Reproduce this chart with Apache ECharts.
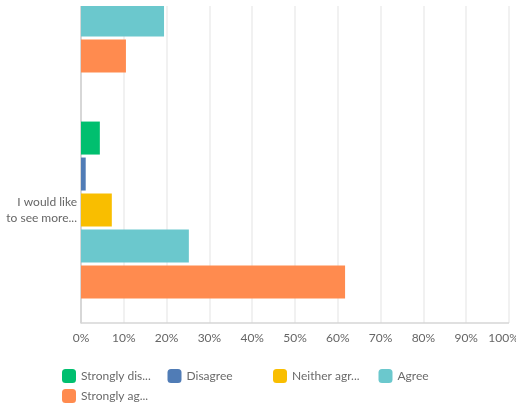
<!DOCTYPE html>
<html>
<head>
<meta charset="utf-8">
<script src="https://cdn.jsdelivr.net/npm/echarts@6/dist/echarts.min.js"></script>
<style>
  html, body { margin: 0; padding: 0; background: #fff; }
  #wrap { position: absolute; left: 0; top: 6px; width: 516px; height: 400px; overflow: hidden; }
  #chart { position: absolute; left: 0; top: -135px; width: 516px; height: 535px; }
</style>
</head>
<body>
<div id="wrap"><div id="chart"></div></div>
<script>
// Survey questions (the first one is scrolled mostly out of view)
const questions = ['The content was relevant to my work', 'I would like\nto see more...'];

// Answer options, in legend order
const answers = ['Strongly disagree', 'Disagree', 'Neither agree nor disagree', 'Agree', 'Strongly agree'];
const answerColors = ['#00bf6f', '#507cb6', '#f9be00', '#6bc8cd', '#ff8b4f'];

// Share of respondents (%) per answer, one value per question
const stronglyDisagree = [0, 4.4];
const disagree = [0, 1.1];
const neither = [0, 7.2];
const agree = [19.4, 25.2];
const stronglyAgree = [10.5, 61.7];

// Percentage axis ticks
const xTicks = [0, 10, 20, 30, 40, 50, 60, 70, 80, 90, 100];

const values = [stronglyDisagree, disagree, neither, agree, stronglyAgree];

const labelFont = 'Lato, "Open Sans", "Noto Sans", sans-serif';
const xMax = xTicks[xTicks.length - 1];

// Legend laid out on a fixed grid of 4 columns
const legendCols = 4;
const legendLeft = 62, legendColW = 105.5, legendTop = 498, legendRowH = 20;

const legends = answers.map((name, i) => ({
  data: [name],
  left: legendLeft + (i % legendCols) * legendColW,
  top: legendTop + Math.floor(i / legendCols) * legendRowH,
  orient: 'horizontal',
  icon: 'roundRect',
  itemWidth: 14,
  itemHeight: 14,
  itemGap: 5,
  padding: 0,
  selectedMode: false,
  textStyle: {
    color: '#6a6a6a',
    fontSize: 12,
    fontFamily: labelFont,
    width: 72,
    overflow: 'truncate',
    ellipsis: '...'
  }
}));

const chart = echarts.init(document.getElementById('chart'), null, { renderer: 'canvas' });

chart.setOption({
  animation: false,
  grid: { left: 81, right: 7, top: 0, bottom: 83, containLabel: false, outerBoundsMode: 'none' },
  legend: legends,
  xAxis: {
    type: 'value',
    min: xTicks[0],
    max: xMax,
    interval: xTicks[1] - xTicks[0],
    axisLine: { show: false },
    axisTick: { show: false },
    axisLabel: {
      color: '#666',
      fontSize: 12,
      fontFamily: labelFont,
      margin: 9,
      // the last label is nudged left so it stays inside the chart edge
      formatter: v => (v === xMax ? '{edge|' + v + '%}' : v + '%'),
      rich: {
        edge: { color: '#666', fontSize: 12, fontFamily: labelFont, padding: [0, 11, 0, 0] }
      }
    },
    splitLine: { show: true, lineStyle: { color: '#ececec', width: 1.5 } }
  },
  yAxis: {
    type: 'category',
    data: questions,
    inverse: true,
    axisLine: { show: true, lineStyle: { color: '#cfcfcf', width: 1.5 } },
    axisTick: { show: false },
    axisLabel: {
      color: '#666',
      fontSize: 12,
      fontFamily: labelFont,
      margin: 4,
      lineHeight: 16,
      align: 'right'
    }
  },
  series: answers.map((name, i) => ({
    name: name,
    type: 'bar',
    data: values[i],
    barWidth: 33,
    barGap: '9%',
    itemStyle: { color: answerColors[i] },
    emphasis: { disabled: true }
  }))
});

// Bottom frame line of the plot area, along the value axis baseline
const grid = chart.getModel().getComponent('grid').coordinateSystem.getRect();
chart.setOption({
  graphic: [{
    type: 'line',
    shape: { x1: grid.x, y1: grid.y + grid.height, x2: grid.x + grid.width, y2: grid.y + grid.height },
    style: { stroke: '#d6d6d6', lineWidth: 1.5 },
    z: 10
  }]
});
</script>
</body>
</html>
